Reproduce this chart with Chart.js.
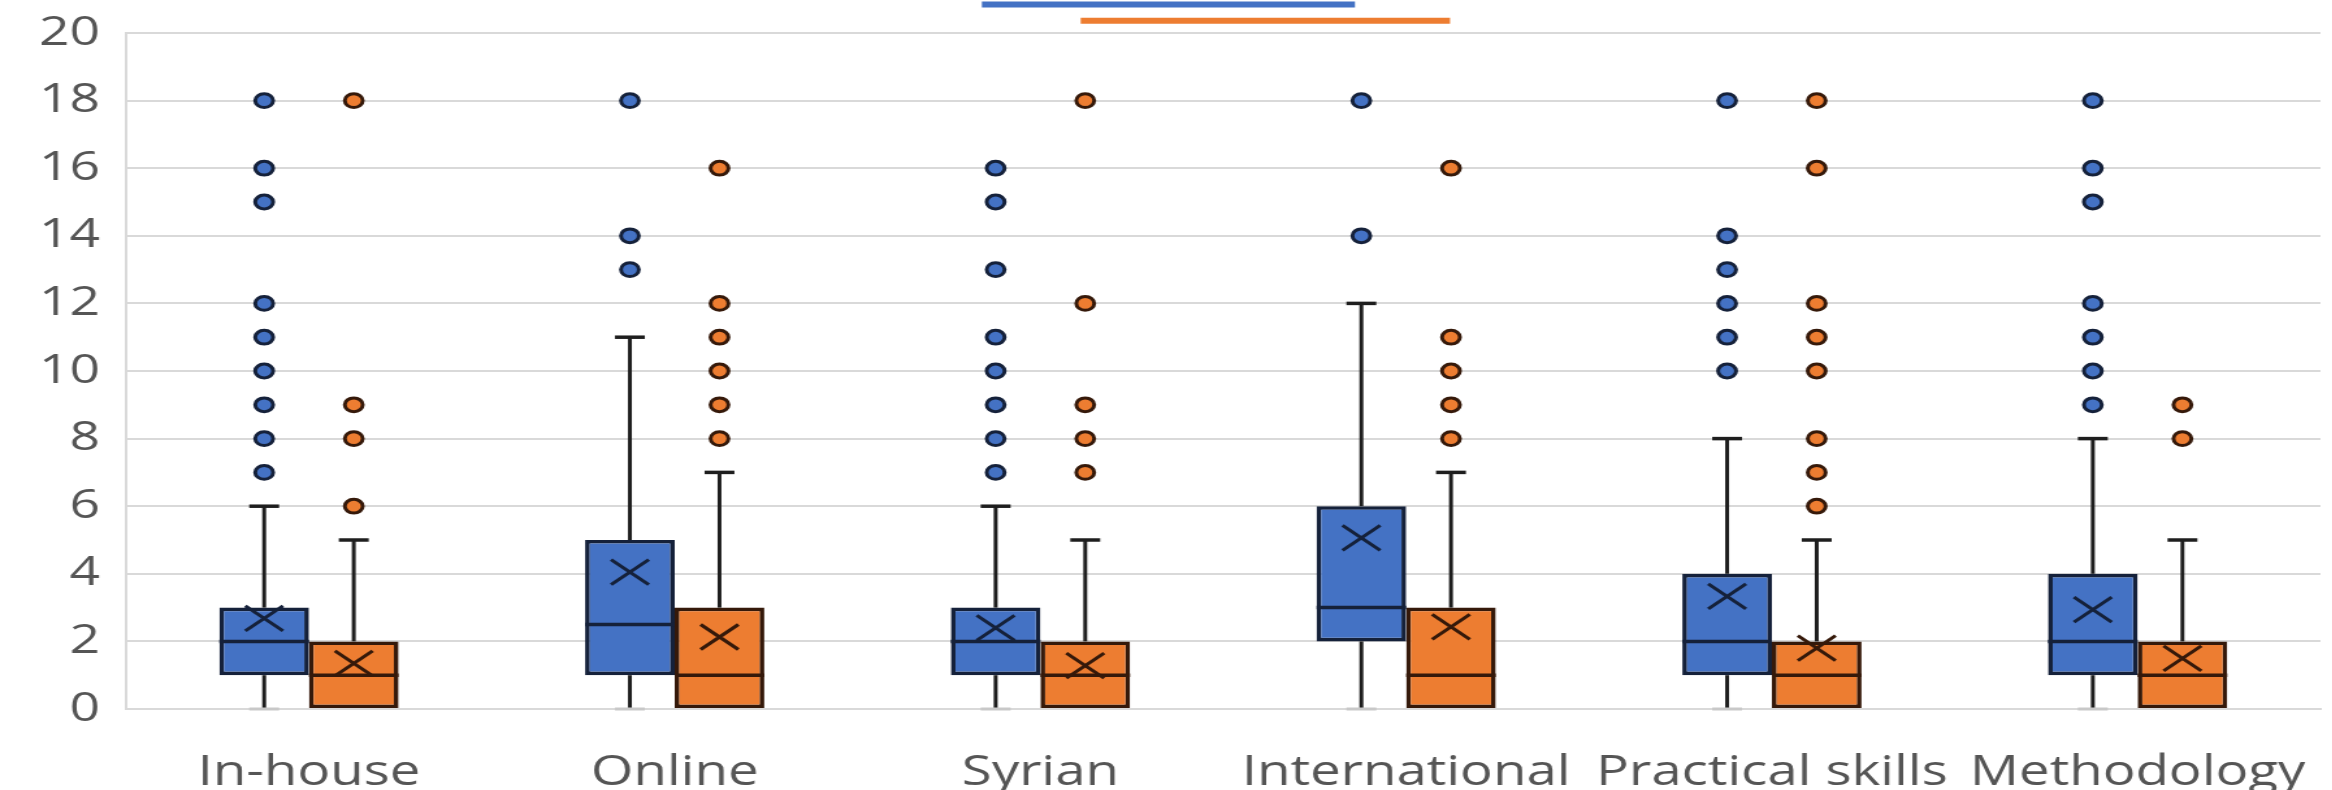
<!DOCTYPE html>
<html>
<head>
<meta charset="utf-8">
<script src="https://cdn.jsdelivr.net/npm/chart.js@4/dist/chart.umd.min.js"></script>
<style>
  html, body { margin: 0; padding: 0; background: #fff; overflow: hidden; }
  /* the source picture is stretched sideways, so the chart is drawn narrow and widened */
  #wrap { width: 1794px; height: 790px; transform: scaleX(1.3); transform-origin: 0 0; }
</style>
</head>
<body>
<div id="wrap"><canvas id="myChart"></canvas></div>
<script>
const categories = ['In-house', 'Online', 'Syrian', 'International', 'Practical skills', 'Methodology'];

// blue series
const blueMin = [0, 0, 0, 0, 0, 0];
const blueQ1 = [1, 1, 1, 2, 1, 1];
const blueMedian = [2, 2.5, 2, 3, 2, 2];
const blueQ3 = [3, 5, 3, 6, 4, 4];
const blueMax = [6, 11, 6, 12, 8, 8];
const blueMean = [2.68, 4.05, 2.4, 5.06, 3.33, 2.94];
const blueOutliers = [
    [7, 8, 9, 10, 11, 12, 15, 16, 18],
    [13, 14, 18],
    [7, 8, 9, 10, 11, 13, 15, 16],
    [14, 18],
    [10, 11, 12, 13, 14, 18],
    [9, 10, 11, 12, 15, 16, 18]
];

// orange series
const orangeMin = [0, 0, 0, 0, 0, 0];
const orangeQ1 = [0, 0, 0, 0, 0, 0];
const orangeMedian = [1, 1, 1, 1, 1, 1];
const orangeQ3 = [2, 3, 2, 3, 2, 2];
const orangeMax = [5, 7, 5, 7, 5, 5];
const orangeMean = [1.35, 2.13, 1.28, 2.43, 1.8, 1.5];
const orangeOutliers = [
    [6, 8, 9, 18],
    [8, 9, 10, 11, 12, 16],
    [7, 8, 9, 12, 18],
    [8, 9, 10, 11, 16],
    [6, 7, 8, 10, 11, 12, 16, 18],
    [8, 9]
];

const yTicks = [0, 2, 4, 6, 8, 10, 12, 14, 16, 18, 20];

// the two bars above the plot, in category / value units
const topBarFrom = [1.84, 2.11];
const topBarTo = [2.86, 3.12];
const topBarLevel = [20.84, 20.36];

const series = [
    { fill: '#4472C4', line: '#15213a', min: blueMin, q1: blueQ1, median: blueMedian, q3: blueQ3, max: blueMax, mean: blueMean, outliers: blueOutliers },
    { fill: '#ED7D31', line: '#35190a', min: orangeMin, q1: orangeQ1, median: orangeMedian, q3: orangeQ3, max: orangeMax, mean: orangeMean, outliers: orangeOutliers }
];

const boxExtras = {
    id: 'boxExtras',
    afterDatasetsDraw(chart) {
        const ctx = chart.ctx;
        const ys = chart.scales.y;
        series.forEach((s, d) => {
            const meta = chart.getDatasetMeta(d);
            meta.data.forEach((bar, i) => {
                const cx = bar.x;
                const half = bar.width / 2;
                const cap = 11.5;
                ctx.save();
                ctx.strokeStyle = '#1e1e1e';
                ctx.lineWidth = 3;
                // upper whisker
                ctx.beginPath();
                ctx.moveTo(cx, ys.getPixelForValue(s.q3[i]));
                ctx.lineTo(cx, ys.getPixelForValue(s.max[i]));
                ctx.stroke();
                ctx.lineWidth = 3.5;
                ctx.beginPath();
                ctx.moveTo(cx - cap, ys.getPixelForValue(s.max[i]));
                ctx.lineTo(cx + cap, ys.getPixelForValue(s.max[i]));
                ctx.stroke();
                // lower whisker
                if (s.min[i] < s.q1[i]) {
                    ctx.lineWidth = 3;
                    ctx.beginPath();
                    ctx.moveTo(cx, ys.getPixelForValue(s.q1[i]));
                    ctx.lineTo(cx, ys.getPixelForValue(s.min[i]));
                    ctx.stroke();
                    ctx.strokeStyle = '#c8c8c8';
                    ctx.lineWidth = 3;
                    ctx.beginPath();
                    ctx.moveTo(cx - cap, ys.getPixelForValue(s.min[i]));
                    ctx.lineTo(cx + cap, ys.getPixelForValue(s.min[i]));
                    ctx.stroke();
                }
                // median
                ctx.strokeStyle = s.line;
                ctx.lineWidth = 3.5;
                ctx.beginPath();
                ctx.moveTo(cx - half, ys.getPixelForValue(s.median[i]));
                ctx.lineTo(cx + half, ys.getPixelForValue(s.median[i]));
                ctx.stroke();
                // mean marker
                const my = ys.getPixelForValue(s.mean[i]);
                const mx = 14.5, mh = 12.5;
                ctx.lineWidth = 3;
                ctx.beginPath();
                ctx.moveTo(cx - mx, my - mh);
                ctx.lineTo(cx + mx, my + mh);
                ctx.moveTo(cx + mx, my - mh);
                ctx.lineTo(cx - mx, my + mh);
                ctx.stroke();
                // outliers
                ctx.fillStyle = s.fill;
                ctx.lineWidth = 3;
                s.outliers[i].forEach(v => {
                    ctx.beginPath();
                    ctx.arc(cx, ys.getPixelForValue(v), 6.9, 0, Math.PI * 2);
                    ctx.fill();
                    ctx.stroke();
                });
                ctx.restore();
            });
        });
    },
    afterDraw(chart) {
        const ctx = chart.ctx;
        const xs = chart.scales.x;
        const ys = chart.scales.y;
        ctx.save();
        ctx.lineWidth = 6;
        series.forEach((s, d) => {
            ctx.strokeStyle = s.fill;
            const yy = ys.getPixelForValue(topBarLevel[d]);
            ctx.beginPath();
            ctx.moveTo(xs.getPixelForValue(topBarFrom[d]), yy);
            ctx.lineTo(xs.getPixelForValue(topBarTo[d]), yy);
            ctx.stroke();
        });
        ctx.restore();
    }
};

const ctx = document.getElementById('myChart').getContext('2d');

const graphData = {
    type: 'bar',
    data: {
        labels: categories,
        datasets: series.map(s => ({
            data: s.q1.map((v, i) => [v, s.q3[i]]),
            backgroundColor: s.fill,
            borderColor: s.line,
            borderWidth: 3.6,
            borderSkipped: false,
            barPercentage: 1,
            categoryPercentage: 0.49
        }))
    },
    options: {
        responsive: true,
        maintainAspectRatio: false,
        animation: false,
        layout: { padding: { top: 33, right: 9, bottom: 0, left: 0 } },
        plugins: { legend: { display: false }, tooltip: { enabled: false } },
        scales: {
            x: {
                grid: { display: false, drawTicks: false },
                border: { display: true, color: '#d9d9d9', width: 2 },
                ticks: { color: '#555555', padding: 39, font: { family: 'Open Sans', size: 42 } },
                afterFit: scale => { scale.height = 81; scale.paddingLeft = 0; scale.paddingRight = 0; }
            },
            y: {
                min: 0,
                max: 20,
                afterBuildTicks: scale => { scale.ticks = yTicks.map(v => ({ value: v })); },
                grid: { color: '#d9d9d9', lineWidth: 2, drawTicks: false },
                border: { display: true, color: '#d9d9d9', width: 2 },
                ticks: { color: '#555555', padding: 20, font: { family: 'Open Sans', size: 41 } },
                afterFit: scale => { scale.width = 97; scale.paddingTop = 0; scale.paddingBottom = 0; }
            }
        }
    },
    plugins: [boxExtras]
};
const myChart = new Chart(ctx, graphData);
</script>
</body>
</html>
